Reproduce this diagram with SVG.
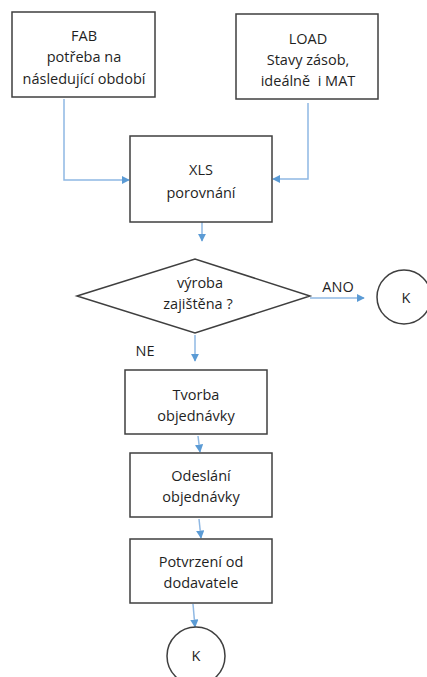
<svg xmlns="http://www.w3.org/2000/svg" width="427" height="677" viewBox="0 0 427 677">
<defs>
<marker id="ah" viewBox="0 0 10 10" refX="9" refY="5" markerWidth="5.5" markerHeight="5.5" orient="auto">
<path d="M0,0 L10,5 L0,10 z" fill="#5b9bd5"/>
</marker>
<style>
.box{fill:#fff;stroke:#3f3f3f;stroke-width:1.5}
.t{font-family:"Open Sans","Liberation Sans",sans-serif;font-size:14.5px;fill:#1f1f1f;text-anchor:middle;white-space:pre}
.c{fill:none;stroke:#8fb8e3;stroke-width:1.5;marker-end:url(#ah)}
</style>
</defs>
<rect width="427" height="677" fill="#fff"/>
<g id="connectors">
<path class="c" d="M64,99 V180 H129"/>
<path class="c" d="M308,103 V179 H273"/>
<path class="c" d="M202,222 V241"/>
<path class="c" d="M310,298 H364"/>
<path class="c" d="M195,335 V361"/>
<path class="c" d="M198,436 L200,452"/>
<path class="c" d="M199,519 L201,538"/>
<path class="c" d="M193,604 L195,627"/>
</g>
<g id="fab"><rect class="box" x="12" y="12" width="143" height="85"/>
<text class="t" x="84" y="41">FAB</text><text class="t" x="84" y="62">potřeba na</text><text class="t" x="84" y="84">následující období</text></g>
<g id="load"><rect class="box" x="236" y="14" width="142" height="85"/>
<text class="t" x="308" y="44">LOAD</text><text class="t" x="308" y="65">Stavy zásob,</text><text class="t" x="308" y="86" xml:space="preserve">ideálně  i MAT</text></g>
<g id="xls"><rect class="box" x="130" y="136" width="142" height="86"/>
<text class="t" x="201" y="175">XLS</text><text class="t" x="201" y="198">porovnání</text></g>
<g id="decision"><polygon class="box" points="77,296 195,259 310,296 195,333"/>
<text class="t" x="200" y="288">výroba</text><text class="t" x="198" y="309">zajištěna ?</text></g>
<text class="t" x="338" y="292">ANO</text>
<text class="t" x="145" y="356">NE</text>
<g id="k1"><circle class="box" cx="404" cy="297" r="27"/><text class="t" x="406" y="303">K</text></g>
<g id="tvorba"><rect class="box" x="125" y="370" width="142" height="64"/>
<text class="t" x="196" y="400">Tvorba</text><text class="t" x="196" y="421">objednávky</text></g>
<g id="odeslani"><rect class="box" x="130" y="453" width="142" height="64"/>
<text class="t" x="201" y="481">Odeslání</text><text class="t" x="201" y="502">objednávky</text></g>
<g id="potvrzeni"><rect class="box" x="130" y="539" width="142" height="64"/>
<text class="t" x="201" y="567">Potvrzení od</text><text class="t" x="201" y="588">dodavatele</text></g>
<g id="k2"><circle class="box" cx="196" cy="656" r="29"/><text class="t" x="196" y="661">K</text></g>
</svg>
